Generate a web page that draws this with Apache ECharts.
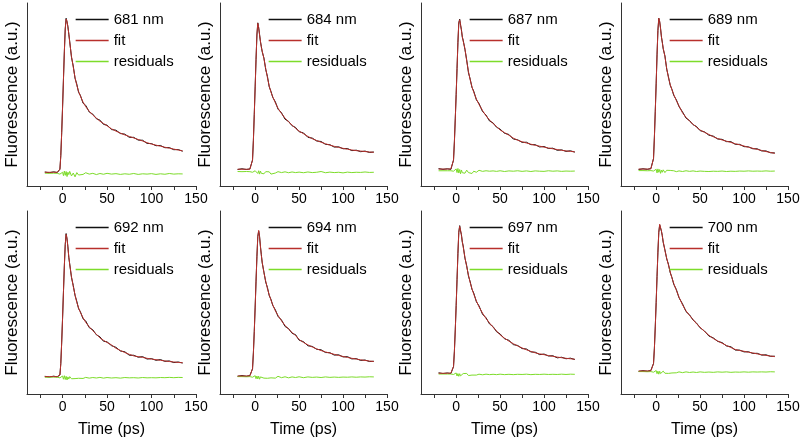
<!DOCTYPE html>
<html>
<head>
<meta charset="utf-8">
<script src="https://cdn.jsdelivr.net/npm/echarts@6/dist/echarts.min.js"></script>
<style>html,body{margin:0;padding:0;background:#fff}#c{width:800px;height:442px}</style>
</head>
<body>
<div id="c"></div>
<script>
const T = [-20,-15,-10,-6,-4,-3,-2,-1,0,1,2,3,4,5,6,7,8,10,12,14,16,18,20,23,26,30,34,38,42,46,50,55,60,65,70,75,80,85,90,95,100,105,110,115,120,125,130,135];
const wavelengths = ['681 nm','684 nm','687 nm','689 nm','692 nm','694 nm','697 nm','700 nm'];
const xTickLabels = [0,50,100,150];
const xTicks = [-25,0,25,50,75,100,125,150];

const fit681 = [0.09,0.09,0.09,0.09,0.092,0.11,0.2,0.35,0.52,0.7,0.88,1.03,1.095,1.08,1.04,1.0,0.945,0.85,0.78,0.71,0.66,0.62,0.59,0.55,0.52,0.49,0.465,0.445,0.425,0.41,0.395,0.375,0.36,0.347,0.335,0.325,0.315,0.305,0.295,0.284,0.275,0.268,0.261,0.254,0.248,0.242,0.236,0.23];
const data681 = [0.092,0.087,0.093,0.088,0.093,0.11,0.2,0.35,0.52,0.7,0.88,1.03,1.1,1.076,1.046,0.995,0.949,0.844,0.787,0.706,0.668,0.614,0.595,0.543,0.529,0.485,0.471,0.441,0.432,0.404,0.399,0.37,0.366,0.344,0.34,0.319,0.319,0.301,0.3,0.279,0.278,0.264,0.266,0.251,0.252,0.238,0.239,0.228];
const res681 = [0.084,0.083,0.084,0.083,0.082,0.078,0.085,0.072,0.09,0.068,0.098,0.07,0.095,0.062,0.09,0.075,0.096,0.066,0.085,0.06,0.088,0.072,0.084,0.076,0.087,0.078,0.083,0.075,0.082,0.077,0.083,0.078,0.081,0.076,0.08,0.077,0.082,0.076,0.08,0.078,0.081,0.076,0.08,0.077,0.082,0.078,0.08,0.079];

const fit684 = [0.11,0.11,0.11,0.11,0.115,0.17,0.3,0.47,0.65,0.83,0.99,1.067,1.04,0.99,0.95,0.91,0.885,0.835,0.77,0.71,0.655,0.615,0.585,0.545,0.51,0.475,0.445,0.42,0.4,0.378,0.36,0.343,0.325,0.31,0.298,0.287,0.277,0.268,0.26,0.253,0.247,0.241,0.236,0.232,0.229,0.226,0.223,0.221];
const data684 = [0.108,0.113,0.108,0.112,0.114,0.17,0.3,0.47,0.65,0.83,0.99,1.07,1.036,0.995,0.947,0.916,0.88,0.839,0.764,0.718,0.65,0.621,0.581,0.552,0.504,0.48,0.438,0.424,0.395,0.384,0.356,0.348,0.319,0.314,0.295,0.292,0.273,0.271,0.255,0.257,0.244,0.246,0.232,0.235,0.225,0.229,0.22,0.223];
const res684 = [0.095,0.094,0.095,0.094,0.094,0.09,0.097,0.085,0.1,0.088,0.105,0.082,0.1,0.078,0.098,0.083,0.095,0.08,0.094,0.085,0.093,0.078,0.091,0.085,0.094,0.088,0.093,0.087,0.092,0.088,0.091,0.087,0.092,0.088,0.09,0.095,0.087,0.091,0.088,0.09,0.086,0.091,0.088,0.09,0.089,0.092,0.089,0.09];

const fit687 = [0.111,0.111,0.111,0.112,0.12,0.17,0.29,0.44,0.6,0.77,0.94,1.07,1.09,1.06,1.02,0.98,0.95,0.9,0.82,0.75,0.695,0.65,0.615,0.57,0.535,0.495,0.46,0.432,0.41,0.39,0.367,0.35,0.333,0.314,0.3,0.29,0.282,0.274,0.267,0.261,0.255,0.249,0.244,0.239,0.234,0.23,0.227,0.224];
const data687 = [0.114,0.109,0.113,0.109,0.122,0.17,0.29,0.44,0.6,0.77,0.94,1.07,1.094,1.054,1.025,0.976,0.956,0.895,0.826,0.743,0.7,0.646,0.622,0.565,0.541,0.488,0.465,0.426,0.414,0.385,0.373,0.346,0.338,0.308,0.303,0.286,0.287,0.271,0.271,0.256,0.259,0.246,0.248,0.234,0.237,0.227,0.231,0.222];
const res687 = [0.1,0.1,0.1,0.1,0.099,0.097,0.104,0.09,0.112,0.088,0.115,0.085,0.108,0.08,0.105,0.087,0.1,0.084,0.104,0.088,0.1,0.082,0.097,0.09,0.103,0.096,0.1,0.097,0.099,0.096,0.1,0.095,0.099,0.097,0.1,0.096,0.099,0.095,0.099,0.097,0.096,0.1,0.097,0.099,0.096,0.098,0.097,0.098];

const fit689 = [0.111,0.111,0.111,0.112,0.12,0.18,0.32,0.49,0.67,0.86,1.02,1.1,1.08,1.03,0.98,0.94,0.905,0.848,0.77,0.71,0.665,0.63,0.6,0.56,0.525,0.48,0.45,0.425,0.405,0.385,0.367,0.352,0.338,0.323,0.311,0.302,0.294,0.286,0.277,0.27,0.262,0.254,0.247,0.24,0.233,0.226,0.22,0.214];
const data689 = [0.108,0.113,0.109,0.115,0.119,0.18,0.32,0.49,0.67,0.86,1.02,1.1,1.076,1.035,0.977,0.944,0.899,0.853,0.766,0.716,0.66,0.634,0.594,0.565,0.521,0.486,0.445,0.429,0.402,0.39,0.363,0.355,0.333,0.327,0.308,0.306,0.291,0.291,0.273,0.273,0.258,0.257,0.244,0.244,0.23,0.23,0.218,0.217];
const res689 = [0.101,0.101,0.1,0.101,0.1,0.098,0.106,0.09,0.11,0.086,0.112,0.09,0.108,0.083,0.104,0.09,0.106,0.088,0.103,0.09,0.102,0.092,0.1,0.094,0.099,0.095,0.1,0.096,0.099,0.095,0.098,0.096,0.095,0.097,0.096,0.098,0.095,0.097,0.096,0.098,0.097,0.099,0.097,0.098,0.097,0.099,0.097,0.098];

const fit692 = [0.114,0.114,0.114,0.114,0.115,0.125,0.2,0.34,0.5,0.67,0.84,0.98,1.047,1.02,0.96,0.9,0.85,0.77,0.705,0.65,0.6,0.565,0.535,0.5,0.47,0.44,0.415,0.392,0.368,0.352,0.338,0.322,0.3,0.285,0.272,0.26,0.25,0.245,0.24,0.234,0.229,0.225,0.221,0.217,0.213,0.21,0.207,0.205];
const data692 = [0.116,0.111,0.117,0.112,0.116,0.125,0.2,0.34,0.5,0.67,0.84,0.98,1.052,1.016,0.966,0.895,0.854,0.764,0.712,0.646,0.608,0.559,0.54,0.493,0.479,0.435,0.421,0.388,0.375,0.346,0.342,0.317,0.306,0.282,0.277,0.254,0.254,0.241,0.245,0.229,0.232,0.221,0.226,0.214,0.217,0.206,0.21,0.203];
const res692 = [0.11,0.11,0.111,0.11,0.11,0.106,0.113,0.1,0.118,0.097,0.12,0.095,0.116,0.092,0.112,0.098,0.114,0.1,0.111,0.101,0.109,0.103,0.11,0.102,0.109,0.104,0.108,0.105,0.109,0.104,0.108,0.105,0.107,0.104,0.108,0.106,0.107,0.105,0.108,0.106,0.107,0.106,0.108,0.107,0.109,0.107,0.109,0.108];

const fit694 = [0.118,0.118,0.118,0.119,0.125,0.165,0.27,0.41,0.57,0.74,0.9,1.03,1.073,1.03,0.97,0.91,0.865,0.795,0.74,0.69,0.65,0.615,0.585,0.545,0.515,0.48,0.45,0.425,0.403,0.383,0.357,0.338,0.322,0.308,0.296,0.285,0.276,0.268,0.26,0.253,0.246,0.24,0.234,0.229,0.224,0.22,0.216,0.213];
const data694 = [0.116,0.121,0.116,0.121,0.124,0.165,0.27,0.41,0.57,0.74,0.9,1.033,1.069,1.035,0.967,0.916,0.86,0.799,0.734,0.698,0.645,0.621,0.581,0.552,0.509,0.485,0.443,0.429,0.398,0.389,0.353,0.343,0.316,0.312,0.293,0.29,0.272,0.271,0.255,0.257,0.243,0.245,0.23,0.232,0.22,0.223,0.213,0.215];
const res694 = [0.114,0.114,0.113,0.114,0.113,0.11,0.117,0.103,0.12,0.1,0.118,0.099,0.117,0.097,0.112,0.101,0.116,0.104,0.115,0.103,0.112,0.106,0.114,0.104,0.116,0.107,0.113,0.106,0.112,0.108,0.113,0.107,0.112,0.109,0.111,0.108,0.112,0.109,0.111,0.109,0.111,0.11,0.112,0.11,0.112,0.111,0.113,0.112];

const fit697 = [0.136,0.136,0.136,0.137,0.142,0.18,0.28,0.42,0.58,0.75,0.92,1.06,1.1,1.075,1.04,1.0,0.965,0.895,0.835,0.78,0.73,0.69,0.655,0.61,0.572,0.53,0.495,0.465,0.438,0.413,0.388,0.366,0.347,0.33,0.315,0.302,0.29,0.279,0.27,0.263,0.258,0.252,0.247,0.242,0.238,0.234,0.231,0.228];
const data697 = [0.139,0.134,0.138,0.134,0.144,0.18,0.28,0.42,0.58,0.75,0.92,1.06,1.104,1.069,1.045,0.996,0.971,0.89,0.841,0.773,0.735,0.686,0.662,0.605,0.578,0.523,0.5,0.459,0.442,0.408,0.394,0.362,0.352,0.324,0.318,0.298,0.295,0.276,0.274,0.258,0.262,0.249,0.251,0.237,0.241,0.231,0.235,0.226];
const res697 = [0.131,0.131,0.131,0.131,0.13,0.128,0.135,0.12,0.138,0.118,0.134,0.116,0.133,0.119,0.131,0.12,0.134,0.122,0.135,0.121,0.132,0.124,0.131,0.124,0.13,0.126,0.13,0.127,0.129,0.127,0.13,0.127,0.129,0.127,0.129,0.128,0.13,0.127,0.129,0.128,0.13,0.128,0.129,0.128,0.13,0.128,0.13,0.129];

const fit700 = [0.151,0.151,0.151,0.152,0.158,0.2,0.3,0.44,0.6,0.77,0.93,1.06,1.113,1.1,1.07,1.035,1.0,0.94,0.89,0.845,0.8,0.76,0.725,0.68,0.635,0.585,0.545,0.515,0.488,0.46,0.438,0.41,0.385,0.364,0.348,0.333,0.318,0.305,0.292,0.285,0.28,0.274,0.269,0.263,0.258,0.253,0.249,0.245];
const data700 = [0.148,0.153,0.149,0.155,0.157,0.2,0.3,0.44,0.6,0.77,0.93,1.06,1.109,1.105,1.067,1.039,0.994,0.945,0.886,0.851,0.795,0.764,0.719,0.685,0.631,0.591,0.54,0.519,0.485,0.465,0.434,0.413,0.38,0.368,0.345,0.337,0.315,0.31,0.288,0.288,0.276,0.277,0.266,0.267,0.255,0.257,0.247,0.248];
const res700 = [0.147,0.147,0.146,0.147,0.146,0.143,0.152,0.136,0.154,0.133,0.15,0.13,0.149,0.134,0.147,0.132,0.15,0.136,0.148,0.135,0.147,0.138,0.146,0.139,0.145,0.14,0.145,0.141,0.144,0.141,0.145,0.142,0.144,0.142,0.145,0.143,0.145,0.142,0.144,0.143,0.145,0.143,0.145,0.144,0.145,0.144,0.146,0.145];

const panels = [
  [data681, fit681, res681], [data684, fit684, res684], [data687, fit687, res687], [data689, fit689, res689],
  [data692, fit692, res692], [data694, fit694, res694], [data697, fit697, res697], [data700, fit700, res700]
];

const colLeft = [27, 220, 421, 621];
const colWidth = [169, 167, 167, 167];
const rowTop = [3, 211];
const plotH = 183;
const FONT = '"Liberation Sans", Arial, sans-serif';

const grids = [], xAxes = [], yAxes = [], series = [], legends = [];
panels.forEach((p, i) => {
  const r = Math.floor(i / 4), c = i % 4;
  grids.push({ left: colLeft[c], top: rowTop[r], width: colWidth[c], height: plotH, outerBoundsMode: 'none', containLabel: false });
  xAxes.push({
    gridIndex: i, type: 'value', min: -40, max: 150,
    axisLine: { show: true, onZero: false, lineStyle: { color: '#333', width: 1 } },
    axisTick: { show: true, customValues: xTicks, length: 4, lineStyle: { color: '#333' } },
    axisLabel: { show: true, customValues: xTickLabels, fontSize: 14, color: '#000', margin: 6, fontFamily: FONT },
    splitLine: { show: false },
    name: r === 1 ? 'Time (ps)' : '', nameLocation: 'middle', nameGap: 28,
    nameTextStyle: { fontSize: 16, color: '#000', fontFamily: FONT }
  });
  yAxes.push({
    gridIndex: i, type: 'value', min: 0, max: 1.2,
    axisLine: { show: true, onZero: false, lineStyle: { color: '#333', width: 1 } },
    axisTick: { show: false }, axisLabel: { show: false }, splitLine: { show: false },
    name: 'Fluorescence (a.u.)', nameLocation: 'middle', nameGap: 6, nameRotate: 90,
    nameTextStyle: { fontSize: 17, color: '#000', fontFamily: FONT }
  });
  const names = [wavelengths[i], 'fit', 'residuals'];
  const colors = ['#111111', '#b8302c', '#7ddc2a'];
  [0, 1, 2].forEach(k => {
    series.push({
      type: 'line', name: names[k], xAxisIndex: i, yAxisIndex: i,
      data: T.map((t, j) => [t, p[k][j]]),
      symbol: 'none', showSymbol: false, smooth: false,
      lineStyle: { color: colors[k], width: 1 }, itemStyle: { color: colors[k] },
      z: k === 1 ? 3 : 2, animation: false
    });
  });
  legends.push({
    data: names, orient: 'vertical', left: colLeft[c] + 48, top: rowTop[r] + 9,
    itemWidth: 33, itemHeight: 14, itemGap: 6, selectedMode: false,
    itemStyle: { opacity: 0 },
    lineStyle: { width: 1.3 },
    textStyle: { fontSize: 15, color: '#000', fontFamily: FONT },
    padding: 0
  });
});

const chart = echarts.init(document.getElementById('c'), null, { renderer: 'canvas' });
chart.setOption({
  backgroundColor: '#fff', animation: false,
  grid: grids, xAxis: xAxes, yAxis: yAxes, series: series, legend: legends
});
</script>
</body>
</html>
